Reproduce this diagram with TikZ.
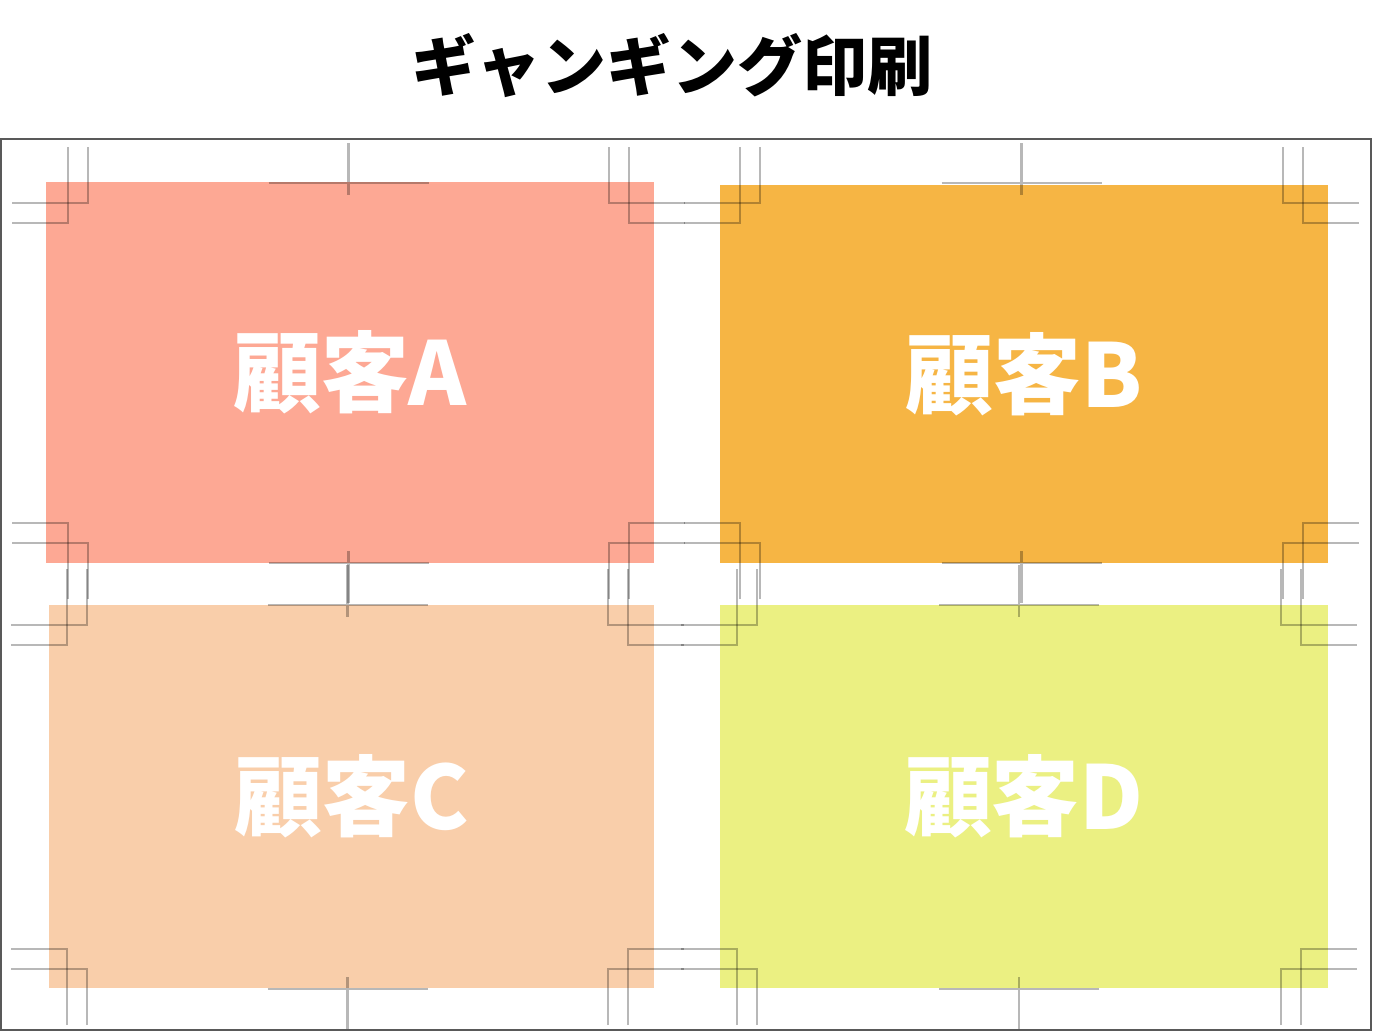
\documentclass[tikz,border=0pt]{standalone}
\usepackage{fontspec}
\newfontfamily\cjk{Noto Sans CJK JP}
\definecolor{cardA}{HTML}{FDA894}
\definecolor{cardB}{HTML}{F6B544}
\definecolor{cardC}{HTML}{F9CEAA}
\definecolor{cardD}{HTML}{EBF082}
\def\px{0.02cm}

\begin{document}
\begin{tikzpicture}[x=0.02cm,y=-0.02cm]
   \useasboundingbox (0,0) rectangle (1373,1032);
   \node[font=\cjk\bfseries\fontsize{37}{37}\selectfont] (title) at (672,66) {ギャンギング印刷};
   \draw[draw=black!65,line width=1.1pt] (1,139) rectangle (1371,1030);
   \begin{scope}[every node/.style={rectangle,inner sep=0pt,text=white,
       font=\cjk\bfseries\fontsize{50}{50}\selectfont}]
    \node[fill=cardA,minimum width=608*\px,minimum height=381*\px] (A) at (350,372.5) {顧客A};
    \node[fill=cardB,minimum width=608*\px,minimum height=378*\px] (B) at (1024,374) {顧客B};
    \node[fill=cardC,minimum width=605*\px,minimum height=383*\px] (C) at (351.5,796.5) {顧客C};
    \node[fill=cardD,minimum width=608*\px,minimum height=383*\px] (D) at (1024,796.5) {顧客D};
   \end{scope}
   % trim marks: left/top/right/bottom of each card's trim box
   \begin{scope}[draw=black,opacity=0.28,line width=1.3pt]
    \foreach \l/\t/\r/\b in {88/223/609/523, 760/223/1283/523, 87/645/608/949, 757/645/1281/949} {
      \pgfmathsetmacro\cx{(\l+\r)/2}
      \draw (\l,\t-76) -- (\l,\t-20) -- (\l-76,\t-20);
      \draw (\l-20,\t-76) -- (\l-20,\t) -- (\l-76,\t);
      \draw (\r,\t-76) -- (\r,\t-20) -- (\r+76,\t-20);
      \draw (\r+20,\t-76) -- (\r+20,\t) -- (\r+76,\t);
      \draw (\l,\b+76) -- (\l,\b+20) -- (\l-76,\b+20);
      \draw (\l-20,\b+76) -- (\l-20,\b) -- (\l-76,\b);
      \draw (\r,\b+76) -- (\r,\b+20) -- (\r+76,\b+20);
      \draw (\r+20,\b+76) -- (\r+20,\b) -- (\r+76,\b);
      \draw (\cx-80,\t-40) -- (\cx+80,\t-40) (\cx,\t-80) -- (\cx,\t-28);
      \draw (\cx-80,\b+40) -- (\cx+80,\b+40) (\cx,\b+28) -- (\cx,\b+80);
    }
   \end{scope}
\end{tikzpicture}
\end{document}
